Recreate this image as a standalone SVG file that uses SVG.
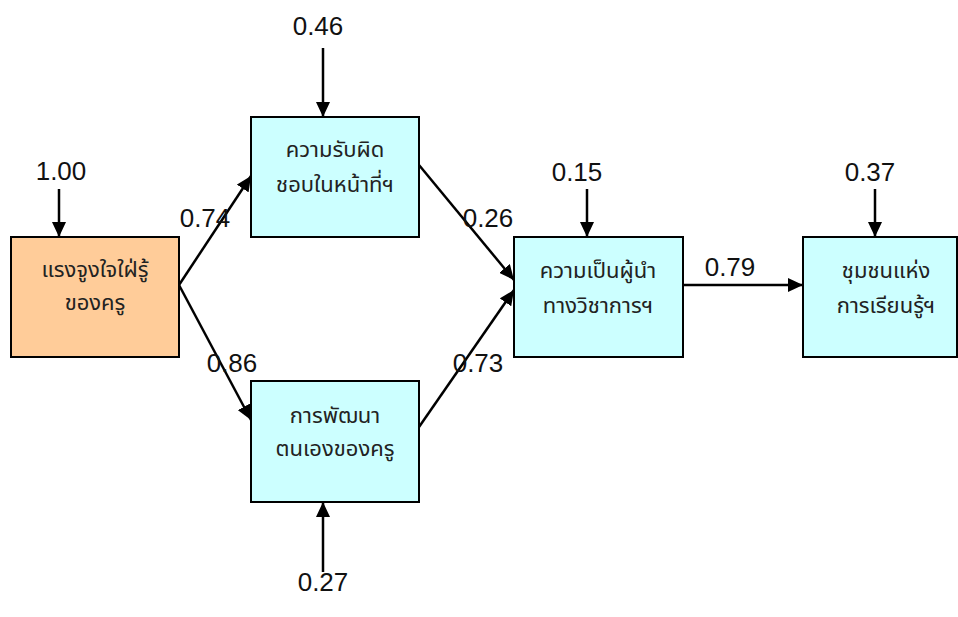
<svg xmlns="http://www.w3.org/2000/svg" width="958" height="617" viewBox="0 0 958 617">
<defs>
<marker id="ah" markerUnits="userSpaceOnUse" markerWidth="16" markerHeight="14" viewBox="0 0 16 14" refX="15" refY="7" orient="auto">
<path d="M0,0 L15,7 L0,14 z" fill="#000"/>
</marker>
<style>
.box{stroke:#000;stroke-width:2}
.blue{fill:#CCFFFF}
.orange{fill:#FFCC99}
.th{font-family:"Noto Sans Thai","Tahoma","DejaVu Sans",sans-serif;font-size:22px;fill:#222;text-anchor:middle}
.num{font-family:"Liberation Sans","Arial",sans-serif;font-size:26px;fill:#111;text-anchor:middle}
.ln{stroke:#000;stroke-width:2.5;fill:none;marker-end:url(#ah)}
</style>
</defs>
<rect width="958" height="617" fill="#fff"/>
<g id="connectors">
<line class="ln" x1="59" y1="189" x2="59" y2="237"/>
<line class="ln" x1="323" y1="48" x2="323" y2="117"/>
<line class="ln" x1="587" y1="189" x2="587" y2="237"/>
<line class="ln" x1="875" y1="189" x2="875" y2="237"/>
<line class="ln" x1="323" y1="572" x2="323" y2="502"/>
<line class="ln" x1="179" y1="285" x2="251" y2="176"/>
<line class="ln" x1="179" y1="285" x2="251" y2="420"/>
<line class="ln" x1="419" y1="165" x2="514" y2="280"/>
<line class="ln" x1="419" y1="427" x2="514" y2="290"/>
<line class="ln" x1="683" y1="285" x2="803" y2="285"/>
</g>
<g id="labels">
<text class="num" x="61" y="180">1.00</text>
<text class="num" x="318" y="35">0.46</text>
<text class="num" x="577" y="181">0.15</text>
<text class="num" x="870" y="181">0.37</text>
<text class="num" x="323" y="591">0.27</text>
<text class="num" x="205" y="227">0.74</text>
<text class="num" x="232" y="372">0.86</text>
<text class="num" x="488" y="227">0.26</text>
<text class="num" x="478" y="372">0.73</text>
<text class="num" x="730" y="276">0.79</text>
</g>
<g id="node-motivation">
<rect class="box orange" x="11" y="237" width="168" height="120"/>
<text class="th" x="95" y="277">แรงจูงใจใฝ่รู้</text>
<text class="th" x="95" y="310">ของครู</text>
</g>
<g id="node-responsibility">
<rect class="box blue" x="251" y="117" width="168" height="120"/>
<text class="th" x="335" y="157">ความรับผิด</text>
<text class="th" x="335" y="192">ชอบในหน้าที่ฯ</text>
</g>
<g id="node-selfdev">
<rect class="box blue" x="251" y="381" width="168" height="121"/>
<text class="th" x="335" y="423">การพัฒนา</text>
<text class="th" x="335" y="456">ตนเองของครู</text>
</g>
<g id="node-leadership">
<rect class="box blue" x="514" y="237" width="169" height="120"/>
<text class="th" x="598" y="278">ความเป็นผู้นำ</text>
<text class="th" x="598" y="313">ทางวิชาการฯ</text>
</g>
<g id="node-plc">
<rect class="box blue" x="803" y="237" width="154" height="120"/>
<text class="th" x="886" y="278">ชุมชนแห่ง</text>
<text class="th" x="886" y="313">การเรียนรู้ฯ</text>
</g>
</svg>
